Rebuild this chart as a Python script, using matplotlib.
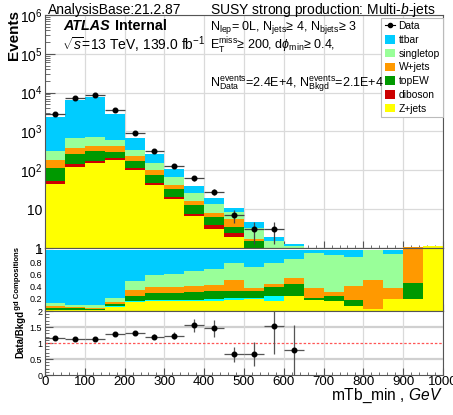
import numpy as np
import matplotlib
matplotlib.use("Agg")
import matplotlib.pyplot as plt
from matplotlib.patches import Patch
from matplotlib.lines import Line2D
from matplotlib.ticker import FixedLocator, MultipleLocator, FuncFormatter, LogLocator, NullFormatter
from matplotlib.transforms import Bbox, TransformedBbox

plt.rcParams['font.family'] = ['Liberation Sans', 'DejaVu Sans']
plt.rcParams['mathtext.fontset'] = 'custom'
plt.rcParams['mathtext.rm'] = 'Liberation Sans'
plt.rcParams['mathtext.it'] = 'Liberation Sans:italic'
plt.rcParams['mathtext.bf'] = 'Liberation Sans:bold'

# ---- binning: mTb_min in 50 GeV bins ----
bin_edges = np.arange(0, 1001, 50)

# ---- background yields per bin (stack order bottom -> top) ----
zjets = [45, 125, 152, 185, 104, 42, 18, 6.7, 3.15, 1.95, 0.9, 0.32, 0.31, 0.108, 0.08, 0.034, 0.009, 0.07, 0.19, 1.1]
diboson = [9, 21, 26, 21, 13, 6, 2.3, 0.8, 0.75, 0.45, 0.05, 0.166, 0, 0, 0, 0, 0, 0, 0, 0]
topew = [62, 123, 138, 98, 58, 28, 12.2, 5.1, 2.5, 1.15, 0.55, 0.273, 0.26, 0.018, 0.045, 0.038, 0, 0, 0.28, 0]
wjets = [70, 116, 117, 120, 65, 26, 9.5, 3.7, 1.7, 2.05, 0.2, 0.107, 0.13, 0.105, 0.035, 0.096, 0.147, 0.065, 0.61, 0]
singletop = [124, 287, 306, 184, 96, 50, 24, 10.3, 5.3, 3.0, 1.6, 0.69, 0.40, 0.339, 0.305, 0.188, 0.144, 0.194, -0.08, 0]
ttbar = [2090, 5728, 7161, 2152, 349, 106, 41, 13.4, 5.8, 2.3, 1.27, 0.39, 0.19, 0.03, 0.035, 0.044, 0, 0.021, 0, -0.1]

# ---- observed data ----
data_counts = [2800, 7200, 8900, 3500, 904, 310, 132, 62, 28, 7, 3, 3, 1, 0, 0, 0, 0, 0, 0, 0]

samples = ["Z+jets", "diboson", "topEW", "W+jets", "singletop", "ttbar"]
yields = [zjets, diboson, topew, wjets, singletop, ttbar]
colors = {"ttbar": "#00ccff", "singletop": "#99ff99", "W+jets": "#ff9900",
          "topEW": "#009900", "diboson": "#cc0000", "Z+jets": "#ffff00"}
comp_colors = dict(colors, diboson="#00ffff")

centers = 0.5 * (bin_edges[:-1] + bin_edges[1:])
widths = np.diff(bin_edges)
ylds = np.array(yields, dtype=float)
total = ylds.sum(axis=0)
data = np.array(data_counts, dtype=float)

W, H = 453, 415
def fx(px): return px / W
def fy(py): return 1 - py / H

fig = plt.figure(figsize=(W / 100, H / 100), dpi=100)
x0, x1 = 45, 443
ax_top = fig.add_axes([fx(x0), fy(248), (x1 - x0) / W, (248 - 15) / H])
ax_mid = fig.add_axes([fx(x0), fy(311), (x1 - x0) / W, (311 - 248) / H])
ax_rat = fig.add_axes([fx(x0), fy(375), (x1 - x0) / W, (375 - 311) / H])

frame_col = "#555555"
grid_col = "#dadada"
for ax in (ax_top, ax_mid, ax_rat):
    ax.set_xlim(0, 1000)
    for s in ax.spines.values():
        s.set_color(frame_col)
        s.set_linewidth(0.8)
    ax.xaxis.set_major_locator(MultipleLocator(100))
    ax.xaxis.set_minor_locator(MultipleLocator(20))
    ax.tick_params(axis='both', which='both', direction='in', colors=frame_col,
                   labelcolor='black', top=False, right=False)
    ax.tick_params(axis='x', which='major', length=5, width=0.8)
    ax.tick_params(axis='x', which='minor', length=2.5, width=0.6)

# ---- top panel: stacked backgrounds + data ----
ax_top.set_yscale('log', nonpositive='clip')
ax_top.set_ylim(1, 1e6)
ax_top.set_axisbelow(True)
ax_top.grid(True, which='major', color=grid_col, lw=0.9)
bottom = np.zeros(len(centers))
for name, vals in zip(samples, ylds):
    v = np.clip(vals, 0, None)
    ax_top.bar(centers, v, width=widths, bottom=bottom, color=colors[name],
               linewidth=0, align='center', zorder=2)
    bottom += v
m = data > 1
ax_top.errorbar(centers[m], data[m], xerr=widths[m] / 2, yerr=np.sqrt(data[m]),
                fmt='o', ms=3.3, color='black', ecolor='#444444', elinewidth=0.9,
                capsize=0, zorder=5)

def log_fmt(v, pos):
    e = int(round(np.log10(v)))
    if e == 0:
        return "1"
    if e == 1:
        return "10"
    return rf"$10^{{{e}}}$"

ax_top.yaxis.set_major_locator(FixedLocator([10.0 ** k for k in range(0, 7)]))
ax_top.yaxis.set_major_formatter(FuncFormatter(log_fmt))
ax_top.yaxis.set_minor_locator(LogLocator(base=10, subs=np.arange(2, 10)))
ax_top.yaxis.set_minor_formatter(NullFormatter())
ax_top.tick_params(axis='y', which='major', length=7, width=0.8, labelsize=10, pad=2)
ax_top.tick_params(axis='y', which='minor', length=3.5, width=0.6)
ax_top.tick_params(axis='x', labelbottom=False)

handles = [Line2D([], [], color='black', marker='o', ms=3, lw=0.8)]
labels = ["Data"]
for name in ["ttbar", "singletop", "W+jets", "topEW", "diboson", "Z+jets"]:
    handles.append(Patch(facecolor=colors[name], edgecolor='none'))
    labels.append(name)
leg = ax_top.legend(handles, labels, loc='upper right', bbox_to_anchor=(1.0, 0.987),
                    borderaxespad=0, fontsize=7.4, frameon=True, fancybox=False,
                    edgecolor='#bbbbbb', framealpha=1, labelspacing=0.36,
                    handlelength=1.0, handleheight=0.9, handletextpad=0.35,
                    borderpad=0.32)
leg.get_frame().set_linewidth(0.8)

# ---- middle panel: background composition ----
ax_mid.set_ylim(0, 1.04)
frac = ylds / total
bottom = np.zeros(len(centers))
for name, f in zip(samples, frac):
    v = np.clip(f, 0, None)
    ax_mid.bar(centers, v, width=widths, bottom=bottom, color=comp_colors[name],
               linewidth=0, align='center', zorder=2)
    bottom += v
ax_mid.yaxis.set_major_locator(FixedLocator([0.2, 0.4, 0.6, 0.8, 1.0]))
ax_mid.yaxis.set_major_formatter(FuncFormatter(lambda v, p: f"{v:g}"))
ax_mid.yaxis.set_minor_locator(MultipleLocator(0.05))
ax_mid.tick_params(axis='y', which='major', length=6, width=0.8, labelsize=6.5, pad=2)
ax_mid.tick_params(axis='y', which='minor', length=3, width=0.6)
ax_mid.tick_params(axis='x', labelbottom=False)

# ---- ratio panel ----
ax_rat.set_ylim(0, 2)
ax_rat.set_axisbelow(True)
ax_rat.grid(True, which='major', axis='x', color=grid_col, lw=0.9)
for yv in (0.5, 1.5):
    ax_rat.axhline(yv, color='#d0d0d0', lw=1.6, zorder=0)
ax_rat.axhline(1.0, color='#ff5555', lw=0.9, ls=(0, (2, 1.5)), zorder=1)
rm = data > 0
ratio = data[rm] / total[rm]
ratio_err = np.sqrt(data[rm]) / total[rm]
ax_rat.errorbar(centers[rm], ratio, xerr=widths[rm] / 2, yerr=ratio_err,
                fmt='o', ms=3.3, color='black', ecolor='#555555', elinewidth=0.9,
                capsize=0, zorder=5)
ax_rat.yaxis.set_major_locator(FixedLocator([0, 0.5, 1, 1.5, 2]))
ax_rat.yaxis.set_major_formatter(FuncFormatter(lambda v, p: f"{v:g}"))
ax_rat.yaxis.set_minor_locator(MultipleLocator(0.1))
ax_rat.tick_params(axis='y', which='major', length=6, width=0.8, labelsize=6.5, pad=2)
ax_rat.tick_params(axis='y', which='minor', length=3, width=0.6)
ax_rat.tick_params(axis='x', which='major', labelsize=9.6, pad=0.8)

# ---- axis titles ----
fig.text(fx(14.5), fy(10), "Events", rotation=90, ha='center', va='top',
         fontsize=11, fontweight='bold')
comp_lbl = fig.text(fx(18), fy(247), "Data/Bkgd Compositions", rotation=90,
                    ha='center', va='top', fontsize=5.6, fontweight='bold')
comp_lbl.set_clip_box(TransformedBbox(Bbox([[0, fy(311)], [1, 1]]), fig.transFigure))
comp_lbl.set_clip_on(True)
fig.text(fx(20), fy(310), "Data/Bkgd", rotation=90, ha='center', va='top',
         fontsize=7, fontweight='bold')
fig.text(fx(443), fy(399.5), r"mTb_min , $\mathit{GeV}$", ha='right', va='baseline',
         fontsize=11.2)

# ---- header and annotations ----
fig.text(fx(48), fy(14), "AnalysisBase:21.2.87", ha='left', va='baseline', fontsize=10)
fig.text(fx(210), fy(14), r"SUSY strong production: Multi-$\mathit{b}$-jets",
         ha='left', va='baseline', fontsize=10)
fig.text(fx(63), fy(30.5), "ATLAS", ha='left', va='baseline', fontsize=10.4,
         fontweight='bold', fontstyle='italic')
fig.text(fx(115), fy(30.5), "Internal", ha='left', va='baseline', fontsize=10.4,
         fontweight='bold')
fig.text(fx(62), fy(50), r"$\sqrt{s}$=13 TeV, 139.0 fb$^{-1}$", ha='left',
         va='baseline', fontsize=10)
fig.text(fx(210), fy(29.5),
         r"N$_{\mathrm{lep}}$= 0L, N$_{\mathrm{jets}}$≥ 4, N$_{\mathrm{bjets}}$≥ 3",
         ha='left', va='baseline', fontsize=9)
fig.text(fx(210), fy(50),
         r"E$_{\mathrm{T}}^{\mathrm{miss}}$≥ 200, d$\phi_{\mathrm{min}}$≥ 0.4,",
         ha='left', va='baseline', fontsize=9)
fig.text(fx(210), fy(87),
         r"N$_{\mathrm{Data}}^{\mathrm{events}}$=2.4E+4, N$_{\mathrm{Bkgd}}^{\mathrm{events}}$=2.1E+4",
         ha='left', va='baseline', fontsize=9)

fig.savefig("out.png", dpi=100)
